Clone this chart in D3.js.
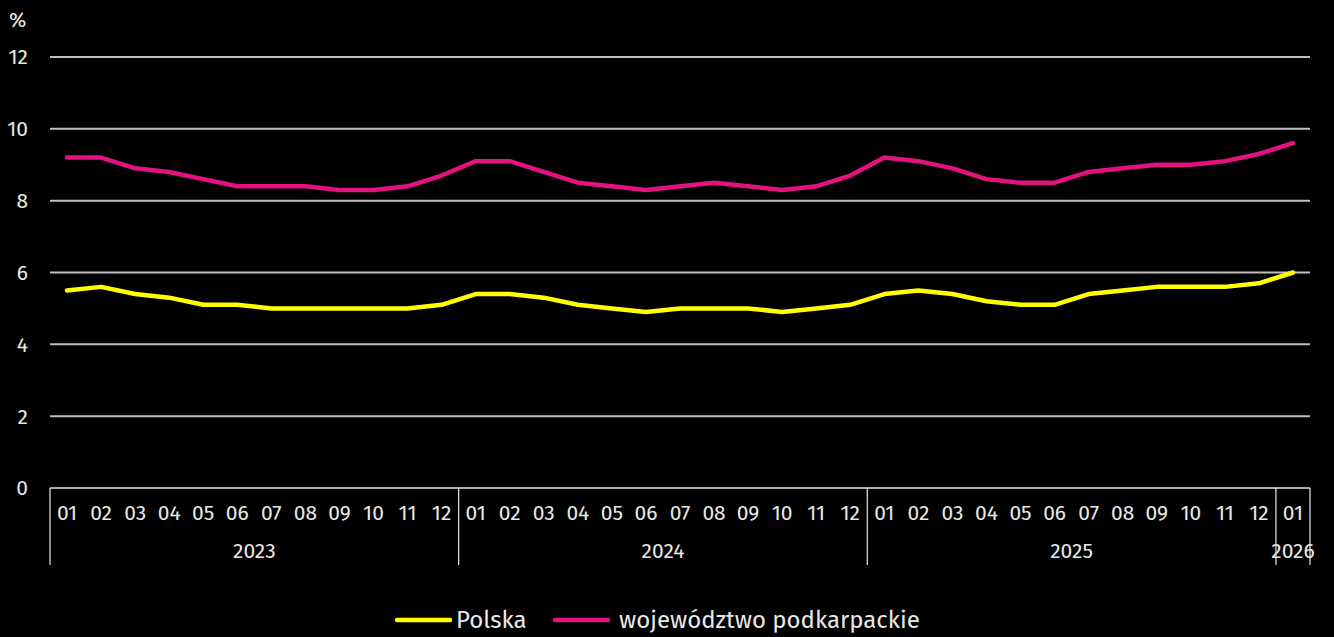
<!DOCTYPE html>
<html><head><meta charset="utf-8">
<script src="https://cdn.jsdelivr.net/npm/d3@7"></script>
<style>body{margin:0;background:#000}svg{display:block}text{font-family:"Fira Sans","Open Sans",Lato,sans-serif;fill:#e8e8e8}</style>
</head><body>
<svg id="c" width="1334" height="637"></svg>
<script>
const months = ["01","02","03","04","05","06","07","08","09","10","11","12",
 "01","02","03","04","05","06","07","08","09","10","11","12",
 "01","02","03","04","05","06","07","08","09","10","11","12","01"];
const years = [{y:"2023",n:12},{y:"2024",n:12},{y:"2025",n:12},{y:"2026",n:1}];
const polska = [5.5,5.6,5.4,5.3,5.1,5.1,5.0,5.0,5.0,5.0,5.0,5.1,
 5.4,5.4,5.3,5.1,5.0,4.9,5.0,5.0,5.0,4.9,5.0,5.1,
 5.4,5.5,5.4,5.2,5.1,5.1,5.4,5.5,5.6,5.6,5.6,5.7,6.0];
const podkarpackie = [9.2,9.2,8.9,8.8,8.6,8.4,8.4,8.4,8.3,8.3,8.4,8.7,
 9.1,9.1,8.8,8.5,8.4,8.3,8.4,8.5,8.4,8.3,8.4,8.7,
 9.2,9.1,8.9,8.6,8.5,8.5,8.8,8.9,9.0,9.0,9.1,9.3,9.6];
const yTicks = [0,2,4,6,8,10,12];
const seriesNames = ["Polska","województwo podkarpackie"];
const colors = ["#ffff00","#e2137e"];

const svg = d3.select("#c");
const L=50,R=1310,T=57,B=488;
const idx = d3.range(months.length);
const x = d3.scaleBand().domain(idx).range([L,R]).paddingInner(0).paddingOuter(0);
const y = d3.scaleLinear().domain([0,12]).range([B,T]);

// grid
svg.append("g").selectAll("line").data(yTicks.filter(d=>d>0)).join("line")
 .attr("x1",L).attr("x2",R).attr("y1",d=>y(d)).attr("y2",d=>y(d))
 .attr("stroke","#bfbfbf").attr("stroke-width",2);
// y labels
svg.append("g").selectAll("text").data(yTicks).join("text")
 .attr("x",28).attr("y",d=>y(d)).attr("dy","0.35em").attr("text-anchor","end")
 .attr("font-size",21).text(d=>d);
svg.append("text").attr("x",9).attr("y",27).attr("font-size",21).text("%");

// x axis baseline
svg.append("line").attr("x1",L).attr("x2",R).attr("y1",B).attr("y2",B).attr("stroke","#e8e8e8").attr("stroke-width",1.5);
// month labels
svg.append("g").selectAll("text").data(idx).join("text")
 .attr("x",i=>x(i)+x.bandwidth()/2).attr("y",520).attr("text-anchor","middle")
 .attr("font-size",21).text(i=>months[i]);
// year groups
let start=0; const bounds=[0];
years.forEach(g=>{start+=g.n;bounds.push(start);});
svg.append("g").selectAll("line").data(bounds).join("line")
 .attr("x1",b=>b<months.length?x(b):R).attr("x2",b=>b<months.length?x(b):R)
 .attr("y1",B).attr("y2",565).attr("stroke","#e8e8e8").attr("stroke-width",1.2);
svg.append("g").selectAll("text").data(years).join("text")
 .attr("x",(g,i)=>{const a=x(bounds[i]);const b=bounds[i+1]<months.length?x(bounds[i+1]):R;return (a+b)/2;})
 .attr("y",558).attr("text-anchor","middle").attr("font-size",21).text(g=>g.y);

// lines
const line = d3.line().x((d,i)=>x(i)+x.bandwidth()/2).y(d=>y(d)).curve(d3.curveLinear);
[polska,podkarpackie].forEach((s,k)=>{
 svg.append("path").datum(s).attr("d",line).attr("fill","none")
  .attr("stroke",colors[k]).attr("stroke-width",4.5).attr("stroke-linejoin","round").attr("stroke-linecap","round");
});

// legend
const leg = [{x:397,tx:456},{x:555,tx:619}];
seriesNames.forEach((n,k)=>{
 svg.append("line").attr("x1",leg[k].x).attr("x2",leg[k].x+53).attr("y1",620).attr("y2",620)
  .attr("stroke",colors[k]).attr("stroke-width",4.5).attr("stroke-linecap","round");
 svg.append("text").attr("x",leg[k].tx).attr("y",628).attr("font-size",24).text(n);
});
</script>
</body></html>
